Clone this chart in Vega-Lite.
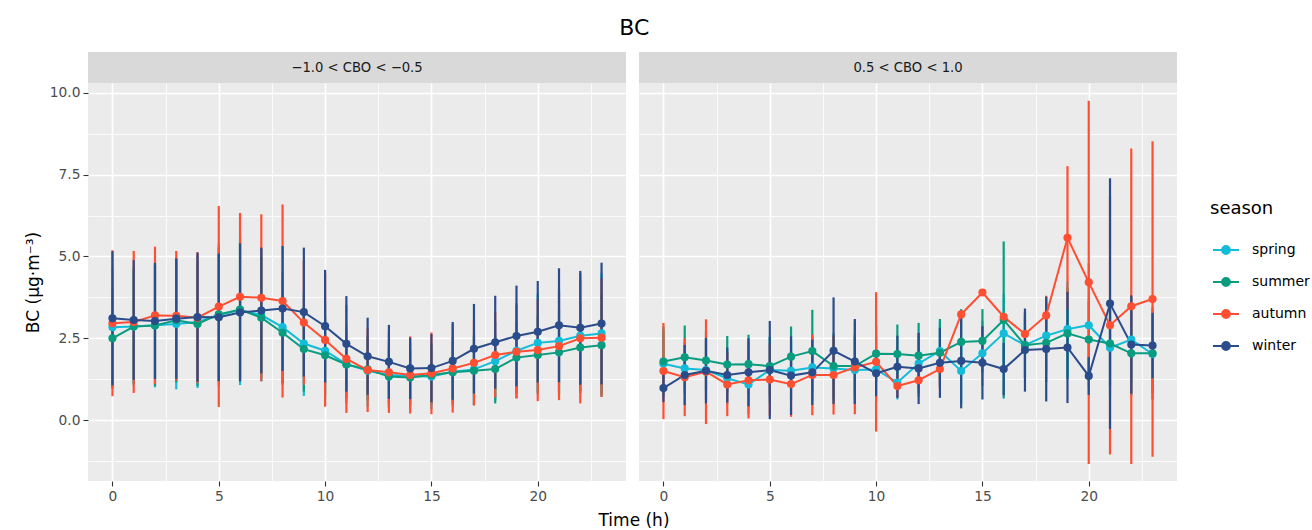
{
  "$schema": "https://vega.github.io/schema/vega-lite/v6.json",
  "padding": {"left": 24, "top": 17, "right": 0, "bottom": 0},
  "background": "white",
  "title": {"text": "BC", "fontSize": 22, "font": "DejaVu Sans", "fontWeight": "normal", "color": "black", "anchor": "start", "dx": 595, "offset": 12},
  "datasets": {
    "bc": [
      {"panel":"L","season":"spring","hour":0,"mean":2.84,"lo":1.00,"hi":4.68},
      {"panel":"L","season":"spring","hour":1,"mean":2.86,"lo":1.06,"hi":4.66},
      {"panel":"L","season":"spring","hour":2,"mean":2.90,"lo":1.00,"hi":4.80},
      {"panel":"L","season":"spring","hour":3,"mean":2.94,"lo":0.94,"hi":4.94},
      {"panel":"L","season":"spring","hour":4,"mean":3.00,"lo":0.98,"hi":5.02},
      {"panel":"L","season":"spring","hour":5,"mean":3.21,"lo":1.03,"hi":5.39},
      {"panel":"L","season":"spring","hour":6,"mean":3.36,"lo":1.07,"hi":5.65},
      {"panel":"L","season":"spring","hour":7,"mean":3.21,"lo":1.18,"hi":5.24},
      {"panel":"L","season":"spring","hour":8,"mean":2.84,"lo":1.14,"hi":4.54},
      {"panel":"L","season":"spring","hour":9,"mean":2.34,"lo":0.74,"hi":3.94},
      {"panel":"L","season":"spring","hour":10,"mean":2.12,"lo":0.62,"hi":3.62},
      {"panel":"L","season":"spring","hour":11,"mean":1.71,"lo":0.51,"hi":2.91},
      {"panel":"L","season":"spring","hour":12,"mean":1.51,"lo":0.41,"hi":2.61},
      {"panel":"L","season":"spring","hour":13,"mean":1.38,"lo":0.38,"hi":2.38},
      {"panel":"L","season":"spring","hour":14,"mean":1.35,"lo":0.35,"hi":2.35},
      {"panel":"L","season":"spring","hour":15,"mean":1.33,"lo":0.33,"hi":2.33},
      {"panel":"L","season":"spring","hour":16,"mean":1.48,"lo":0.43,"hi":2.53},
      {"panel":"L","season":"spring","hour":17,"mean":1.55,"lo":0.45,"hi":2.65},
      {"panel":"L","season":"spring","hour":18,"mean":1.80,"lo":0.60,"hi":3.00},
      {"panel":"L","season":"spring","hour":19,"mean":2.12,"lo":0.67,"hi":3.57},
      {"panel":"L","season":"spring","hour":20,"mean":2.36,"lo":0.86,"hi":3.86},
      {"panel":"L","season":"spring","hour":21,"mean":2.42,"lo":0.82,"hi":4.02},
      {"panel":"L","season":"spring","hour":22,"mean":2.58,"lo":0.88,"hi":4.28},
      {"panel":"L","season":"spring","hour":23,"mean":2.65,"lo":0.80,"hi":4.50},
      {"panel":"L","season":"summer","hour":0,"mean":2.50,"lo":0.95,"hi":4.05},
      {"panel":"L","season":"summer","hour":1,"mean":2.86,"lo":1.11,"hi":4.61},
      {"panel":"L","season":"summer","hour":2,"mean":2.89,"lo":1.04,"hi":4.74},
      {"panel":"L","season":"summer","hour":3,"mean":3.05,"lo":1.15,"hi":4.95},
      {"panel":"L","season":"summer","hour":4,"mean":2.94,"lo":1.04,"hi":4.84},
      {"panel":"L","season":"summer","hour":5,"mean":3.23,"lo":1.19,"hi":5.27},
      {"panel":"L","season":"summer","hour":6,"mean":3.38,"lo":1.28,"hi":5.48},
      {"panel":"L","season":"summer","hour":7,"mean":3.13,"lo":1.28,"hi":4.98},
      {"panel":"L","season":"summer","hour":8,"mean":2.67,"lo":1.08,"hi":4.26},
      {"panel":"L","season":"summer","hour":9,"mean":2.17,"lo":0.87,"hi":3.47},
      {"panel":"L","season":"summer","hour":10,"mean":1.98,"lo":0.78,"hi":3.18},
      {"panel":"L","season":"summer","hour":11,"mean":1.70,"lo":0.66,"hi":2.74},
      {"panel":"L","season":"summer","hour":12,"mean":1.55,"lo":0.60,"hi":2.50},
      {"panel":"L","season":"summer","hour":13,"mean":1.33,"lo":0.48,"hi":2.18},
      {"panel":"L","season":"summer","hour":14,"mean":1.30,"lo":0.45,"hi":2.15},
      {"panel":"L","season":"summer","hour":15,"mean":1.38,"lo":0.48,"hi":2.28},
      {"panel":"L","season":"summer","hour":16,"mean":1.46,"lo":0.51,"hi":2.41},
      {"panel":"L","season":"summer","hour":17,"mean":1.51,"lo":0.46,"hi":2.56},
      {"panel":"L","season":"summer","hour":18,"mean":1.56,"lo":0.51,"hi":2.61},
      {"panel":"L","season":"summer","hour":19,"mean":1.91,"lo":0.81,"hi":3.01},
      {"panel":"L","season":"summer","hour":20,"mean":1.99,"lo":0.79,"hi":3.19},
      {"panel":"L","season":"summer","hour":21,"mean":2.07,"lo":0.77,"hi":3.37},
      {"panel":"L","season":"summer","hour":22,"mean":2.22,"lo":0.82,"hi":3.62},
      {"panel":"L","season":"summer","hour":23,"mean":2.29,"lo":0.71,"hi":3.87},
      {"panel":"L","season":"autumn","hour":0,"mean":2.96,"lo":0.73,"hi":5.19},
      {"panel":"L","season":"autumn","hour":1,"mean":3.00,"lo":0.83,"hi":5.17},
      {"panel":"L","season":"autumn","hour":2,"mean":3.20,"lo":1.10,"hi":5.30},
      {"panel":"L","season":"autumn","hour":3,"mean":3.19,"lo":1.21,"hi":5.17},
      {"panel":"L","season":"autumn","hour":4,"mean":3.13,"lo":1.13,"hi":5.13},
      {"panel":"L","season":"autumn","hour":5,"mean":3.47,"lo":0.40,"hi":6.54},
      {"panel":"L","season":"autumn","hour":6,"mean":3.77,"lo":1.21,"hi":6.33},
      {"panel":"L","season":"autumn","hour":7,"mean":3.74,"lo":1.19,"hi":6.29},
      {"panel":"L","season":"autumn","hour":8,"mean":3.64,"lo":0.69,"hi":6.59},
      {"panel":"L","season":"autumn","hour":9,"mean":2.98,"lo":1.08,"hi":4.88},
      {"panel":"L","season":"autumn","hour":10,"mean":2.45,"lo":0.41,"hi":4.49},
      {"panel":"L","season":"autumn","hour":11,"mean":1.87,"lo":0.22,"hi":3.52},
      {"panel":"L","season":"autumn","hour":12,"mean":1.53,"lo":0.25,"hi":2.81},
      {"panel":"L","season":"autumn","hour":13,"mean":1.46,"lo":0.22,"hi":2.70},
      {"panel":"L","season":"autumn","hour":14,"mean":1.38,"lo":0.20,"hi":2.56},
      {"panel":"L","season":"autumn","hour":15,"mean":1.43,"lo":0.18,"hi":2.68},
      {"panel":"L","season":"autumn","hour":16,"mean":1.58,"lo":0.23,"hi":2.93},
      {"panel":"L","season":"autumn","hour":17,"mean":1.75,"lo":0.45,"hi":3.05},
      {"panel":"L","season":"autumn","hour":18,"mean":1.99,"lo":0.69,"hi":3.29},
      {"panel":"L","season":"autumn","hour":19,"mean":2.09,"lo":0.66,"hi":3.52},
      {"panel":"L","season":"autumn","hour":20,"mean":2.14,"lo":0.58,"hi":3.70},
      {"panel":"L","season":"autumn","hour":21,"mean":2.26,"lo":0.61,"hi":3.91},
      {"panel":"L","season":"autumn","hour":22,"mean":2.50,"lo":0.51,"hi":4.49},
      {"panel":"L","season":"autumn","hour":23,"mean":2.52,"lo":0.71,"hi":4.33},
      {"panel":"L","season":"winter","hour":0,"mean":3.11,"lo":1.06,"hi":5.16},
      {"panel":"L","season":"winter","hour":1,"mean":3.06,"lo":1.23,"hi":4.89},
      {"panel":"L","season":"winter","hour":2,"mean":3.03,"lo":1.26,"hi":4.80},
      {"panel":"L","season":"winter","hour":3,"mean":3.10,"lo":1.26,"hi":4.94},
      {"panel":"L","season":"winter","hour":4,"mean":3.15,"lo":1.18,"hi":5.12},
      {"panel":"L","season":"winter","hour":5,"mean":3.14,"lo":1.19,"hi":5.09},
      {"panel":"L","season":"winter","hour":6,"mean":3.29,"lo":1.18,"hi":5.40},
      {"panel":"L","season":"winter","hour":7,"mean":3.35,"lo":1.43,"hi":5.27},
      {"panel":"L","season":"winter","hour":8,"mean":3.41,"lo":1.50,"hi":5.32},
      {"panel":"L","season":"winter","hour":9,"mean":3.30,"lo":1.33,"hi":5.27},
      {"panel":"L","season":"winter","hour":10,"mean":2.87,"lo":1.15,"hi":4.59},
      {"panel":"L","season":"winter","hour":11,"mean":2.33,"lo":0.87,"hi":3.79},
      {"panel":"L","season":"winter","hour":12,"mean":1.95,"lo":0.77,"hi":3.13},
      {"panel":"L","season":"winter","hour":13,"mean":1.78,"lo":0.65,"hi":2.91},
      {"panel":"L","season":"winter","hour":14,"mean":1.58,"lo":0.64,"hi":2.52},
      {"panel":"L","season":"winter","hour":15,"mean":1.59,"lo":0.55,"hi":2.63},
      {"panel":"L","season":"winter","hour":16,"mean":1.81,"lo":0.62,"hi":3.00},
      {"panel":"L","season":"winter","hour":17,"mean":2.18,"lo":0.81,"hi":3.55},
      {"panel":"L","season":"winter","hour":18,"mean":2.38,"lo":0.96,"hi":3.80},
      {"panel":"L","season":"winter","hour":19,"mean":2.57,"lo":1.03,"hi":4.11},
      {"panel":"L","season":"winter","hour":20,"mean":2.70,"lo":1.15,"hi":4.25},
      {"panel":"L","season":"winter","hour":21,"mean":2.90,"lo":1.16,"hi":4.64},
      {"panel":"L","season":"winter","hour":22,"mean":2.82,"lo":1.08,"hi":4.56},
      {"panel":"L","season":"winter","hour":23,"mean":2.95,"lo":1.09,"hi":4.81},
      {"panel":"R","season":"spring","hour":0,"mean":1.72,"lo":0.72,"hi":2.72},
      {"panel":"R","season":"spring","hour":1,"mean":1.58,"lo":0.78,"hi":2.38},
      {"panel":"R","season":"spring","hour":2,"mean":1.53,"lo":0.63,"hi":2.43},
      {"panel":"R","season":"spring","hour":3,"mean":1.28,"lo":0.48,"hi":2.08},
      {"panel":"R","season":"spring","hour":4,"mean":1.09,"lo":0.19,"hi":1.99},
      {"panel":"R","season":"spring","hour":5,"mean":1.53,"lo":0.53,"hi":2.53},
      {"panel":"R","season":"spring","hour":6,"mean":1.51,"lo":0.61,"hi":2.41},
      {"panel":"R","season":"spring","hour":7,"mean":1.61,"lo":0.61,"hi":2.61},
      {"panel":"R","season":"spring","hour":8,"mean":1.58,"lo":0.58,"hi":2.58},
      {"panel":"R","season":"spring","hour":9,"mean":1.53,"lo":0.53,"hi":2.53},
      {"panel":"R","season":"spring","hour":10,"mean":1.55,"lo":0.55,"hi":2.55},
      {"panel":"R","season":"spring","hour":11,"mean":1.15,"lo":0.63,"hi":1.67},
      {"panel":"R","season":"spring","hour":12,"mean":1.73,"lo":0.83,"hi":2.63},
      {"panel":"R","season":"spring","hour":13,"mean":2.11,"lo":1.21,"hi":3.01},
      {"panel":"R","season":"spring","hour":14,"mean":1.50,"lo":0.50,"hi":2.50},
      {"panel":"R","season":"spring","hour":15,"mean":2.04,"lo":1.04,"hi":3.04},
      {"panel":"R","season":"spring","hour":16,"mean":2.65,"lo":1.45,"hi":3.85},
      {"panel":"R","season":"spring","hour":17,"mean":2.29,"lo":1.29,"hi":3.29},
      {"panel":"R","season":"spring","hour":18,"mean":2.58,"lo":1.48,"hi":3.68},
      {"panel":"R","season":"spring","hour":19,"mean":2.78,"lo":1.33,"hi":4.23},
      {"panel":"R","season":"spring","hour":20,"mean":2.90,"lo":1.01,"hi":4.79},
      {"panel":"R","season":"spring","hour":21,"mean":2.21,"lo":0.71,"hi":3.71},
      {"panel":"R","season":"spring","hour":22,"mean":2.46,"lo":1.16,"hi":3.76},
      {"panel":"R","season":"spring","hour":23,"mean":2.02,"lo":0.82,"hi":3.22},
      {"panel":"R","season":"summer","hour":0,"mean":1.79,"lo":0.72,"hi":2.86},
      {"panel":"R","season":"summer","hour":1,"mean":1.92,"lo":0.95,"hi":2.89},
      {"panel":"R","season":"summer","hour":2,"mean":1.82,"lo":0.92,"hi":2.72},
      {"panel":"R","season":"summer","hour":3,"mean":1.70,"lo":0.83,"hi":2.57},
      {"panel":"R","season":"summer","hour":4,"mean":1.71,"lo":0.81,"hi":2.61},
      {"panel":"R","season":"summer","hour":5,"mean":1.65,"lo":0.75,"hi":2.55},
      {"panel":"R","season":"summer","hour":6,"mean":1.94,"lo":1.02,"hi":2.86},
      {"panel":"R","season":"summer","hour":7,"mean":2.11,"lo":0.85,"hi":3.37},
      {"panel":"R","season":"summer","hour":8,"mean":1.65,"lo":0.65,"hi":2.65},
      {"panel":"R","season":"summer","hour":9,"mean":1.65,"lo":0.65,"hi":2.65},
      {"panel":"R","season":"summer","hour":10,"mean":2.03,"lo":1.18,"hi":2.88},
      {"panel":"R","season":"summer","hour":11,"mean":2.02,"lo":1.12,"hi":2.92},
      {"panel":"R","season":"summer","hour":12,"mean":1.97,"lo":0.97,"hi":2.97},
      {"panel":"R","season":"summer","hour":13,"mean":2.06,"lo":1.03,"hi":3.09},
      {"panel":"R","season":"summer","hour":14,"mean":2.39,"lo":1.39,"hi":3.39},
      {"panel":"R","season":"summer","hour":15,"mean":2.42,"lo":1.45,"hi":3.39},
      {"panel":"R","season":"summer","hour":16,"mean":3.06,"lo":0.66,"hi":5.46},
      {"panel":"R","season":"summer","hour":17,"mean":2.29,"lo":1.29,"hi":3.29},
      {"panel":"R","season":"summer","hour":18,"mean":2.36,"lo":1.16,"hi":3.56},
      {"panel":"R","season":"summer","hour":19,"mean":2.65,"lo":1.25,"hi":4.05},
      {"panel":"R","season":"summer","hour":20,"mean":2.46,"lo":1.26,"hi":3.66},
      {"panel":"R","season":"summer","hour":21,"mean":2.34,"lo":1.04,"hi":3.64},
      {"panel":"R","season":"summer","hour":22,"mean":2.04,"lo":0.74,"hi":3.34},
      {"panel":"R","season":"summer","hour":23,"mean":2.04,"lo":0.63,"hi":3.45},
      {"panel":"R","season":"autumn","hour":0,"mean":1.50,"lo":0.03,"hi":2.97},
      {"panel":"R","season":"autumn","hour":1,"mean":1.31,"lo":0.12,"hi":2.50},
      {"panel":"R","season":"autumn","hour":2,"mean":1.48,"lo":-0.12,"hi":3.08},
      {"panel":"R","season":"autumn","hour":3,"mean":1.09,"lo":0.12,"hi":2.06},
      {"panel":"R","season":"autumn","hour":4,"mean":1.22,"lo":0.05,"hi":2.39},
      {"panel":"R","season":"autumn","hour":5,"mean":1.24,"lo":0.14,"hi":2.34},
      {"panel":"R","season":"autumn","hour":6,"mean":1.10,"lo":0.10,"hi":2.10},
      {"panel":"R","season":"autumn","hour":7,"mean":1.38,"lo":0.15,"hi":2.61},
      {"panel":"R","season":"autumn","hour":8,"mean":1.38,"lo":0.17,"hi":2.59},
      {"panel":"R","season":"autumn","hour":9,"mean":1.61,"lo":0.18,"hi":3.04},
      {"panel":"R","season":"autumn","hour":10,"mean":1.78,"lo":-0.35,"hi":3.91},
      {"panel":"R","season":"autumn","hour":11,"mean":1.04,"lo":0.69,"hi":1.39},
      {"panel":"R","season":"autumn","hour":12,"mean":1.22,"lo":0.72,"hi":1.72},
      {"panel":"R","season":"autumn","hour":13,"mean":1.56,"lo":0.96,"hi":2.16},
      {"panel":"R","season":"autumn","hour":14,"mean":3.23,"lo":3.18,"hi":3.28},
      {"panel":"R","season":"autumn","hour":15,"mean":3.90,"lo":3.85,"hi":3.95},
      {"panel":"R","season":"autumn","hour":16,"mean":3.16,"lo":3.06,"hi":3.26},
      {"panel":"R","season":"autumn","hour":17,"mean":2.63,"lo":2.13,"hi":3.13},
      {"panel":"R","season":"autumn","hour":18,"mean":3.20,"lo":2.60,"hi":3.80},
      {"panel":"R","season":"autumn","hour":19,"mean":5.57,"lo":3.38,"hi":7.76},
      {"panel":"R","season":"autumn","hour":20,"mean":4.21,"lo":-1.34,"hi":9.76},
      {"panel":"R","season":"autumn","hour":21,"mean":2.90,"lo":-1.05,"hi":6.85},
      {"panel":"R","season":"autumn","hour":22,"mean":3.48,"lo":-1.34,"hi":8.30},
      {"panel":"R","season":"autumn","hour":23,"mean":3.70,"lo":-1.12,"hi":8.52},
      {"panel":"R","season":"winter","hour":0,"mean":0.98,"lo":0.55,"hi":1.41},
      {"panel":"R","season":"winter","hour":1,"mean":1.38,"lo":0.46,"hi":2.30},
      {"panel":"R","season":"winter","hour":2,"mean":1.51,"lo":0.51,"hi":2.51},
      {"panel":"R","season":"winter","hour":3,"mean":1.38,"lo":0.54,"hi":2.22},
      {"panel":"R","season":"winter","hour":4,"mean":1.46,"lo":0.42,"hi":2.50},
      {"panel":"R","season":"winter","hour":5,"mean":1.53,"lo":0.03,"hi":3.03},
      {"panel":"R","season":"winter","hour":6,"mean":1.36,"lo":0.16,"hi":2.56},
      {"panel":"R","season":"winter","hour":7,"mean":1.46,"lo":0.46,"hi":2.46},
      {"panel":"R","season":"winter","hour":8,"mean":2.12,"lo":0.49,"hi":3.75},
      {"panel":"R","season":"winter","hour":9,"mean":1.79,"lo":0.49,"hi":3.09},
      {"panel":"R","season":"winter","hour":10,"mean":1.43,"lo":0.73,"hi":2.13},
      {"panel":"R","season":"winter","hour":11,"mean":1.63,"lo":0.68,"hi":2.58},
      {"panel":"R","season":"winter","hour":12,"mean":1.58,"lo":0.49,"hi":2.67},
      {"panel":"R","season":"winter","hour":13,"mean":1.75,"lo":0.68,"hi":2.82},
      {"panel":"R","season":"winter","hour":14,"mean":1.81,"lo":0.36,"hi":3.26},
      {"panel":"R","season":"winter","hour":15,"mean":1.75,"lo":0.63,"hi":2.87},
      {"panel":"R","season":"winter","hour":16,"mean":1.56,"lo":0.76,"hi":2.36},
      {"panel":"R","season":"winter","hour":17,"mean":2.14,"lo":0.87,"hi":3.41},
      {"panel":"R","season":"winter","hour":18,"mean":2.17,"lo":0.57,"hi":3.77},
      {"panel":"R","season":"winter","hour":19,"mean":2.22,"lo":0.52,"hi":3.92},
      {"panel":"R","season":"winter","hour":20,"mean":1.35,"lo":0.77,"hi":1.93},
      {"panel":"R","season":"winter","hour":21,"mean":3.56,"lo":-0.27,"hi":7.39},
      {"panel":"R","season":"winter","hour":22,"mean":2.31,"lo":0.81,"hi":3.81},
      {"panel":"R","season":"winter","hour":23,"mean":2.28,"lo":1.28,"hi":3.28}
    ]
  },
  "spacing": 0,
  "vconcat": [
    {
      "spacing": 13,
      "bounds": "flush",
      "hconcat": [
        {
          "width": 538, "height": 31,
          "view": {"fill": "#D9D9D9", "stroke": null},
          "data": {"values": [{"label": "−1.0 < CBO < −0.5"}]},
          "mark": {"type": "text", "fontSize": 13.2, "font": "DejaVu Sans", "color": "#1A1A1A"},
          "encoding": {"text": {"field": "label", "type": "nominal"}}
        },
        {
          "width": 538, "height": 31,
          "view": {"fill": "#D9D9D9", "stroke": null},
          "data": {"values": [{"label": "0.5 < CBO < 1.0"}]},
          "mark": {"type": "text", "fontSize": 13.2, "font": "DejaVu Sans", "color": "#1A1A1A"},
          "encoding": {"text": {"field": "label", "type": "nominal"}}
        }
      ]
    },
    {
      "spacing": 13,
      "bounds": "flush",
      "hconcat": [
        {
          "width": 538, "height": 398,
          "data": {"name": "bc"},
          "transform": [{"filter": "datum.panel === 'L'"}],
          "resolve": {"axis": {"x": "independent", "y": "independent"}},
          "layer": [
            {
              "mark": {"type": "point", "opacity": 0},
              "encoding": {
                "x": {"field": "hour", "type": "quantitative", "scale": {"domain": [-1.15, 24.15], "nice": false, "zero": false},
                      "axis": {"orient": "top", "values": [2.5, 7.5, 12.5, 17.5, 22.5], "labels": false, "ticks": false, "domain": false, "grid": true, "gridWidth": 0.8, "title": null}},
                "y": {"field": "mean", "type": "quantitative", "scale": {"domain": [-1.86, 10.3], "nice": false, "zero": false},
                      "axis": {"orient": "right", "values": [-1.25, 1.25, 3.75, 6.25, 8.75], "labels": false, "ticks": false, "domain": false, "grid": true, "gridWidth": 0.8, "title": null}}
              }
            },
            {
              "mark": {"type": "rule", "strokeWidth": 2.2},
              "encoding": {
                "x": {"field": "hour", "type": "quantitative", "axis": {"values": [0, 5, 10, 15, 20], "format": "d", "title": "Time (h)", "titleX": 545.5, "titlePadding": 10, "grid": true}},
                "y": {"field": "lo", "type": "quantitative", "axis": {"values": [0, 2.5, 5, 7.5, 10], "format": ".1f", "title": "BC (µg·m⁻³)", "grid": true}},
                "y2": {"field": "hi"},
                "color": {"field": "season", "type": "nominal", "scale": {"domain": ["spring", "summer", "autumn", "winter"], "range": ["#13BCD8", "#0A9C7F", "#FF4F33", "#2B4C8A"]}}
              }
            },
            {
              "mark": {"type": "line", "strokeWidth": 2},
              "encoding": {
                "x": {"field": "hour", "type": "quantitative", "axis": null},
                "y": {"field": "mean", "type": "quantitative", "axis": null},
                "color": {"field": "season", "type": "nominal"}
              }
            },
            {
              "mark": {"type": "point", "filled": true, "size": 66, "opacity": 1},
              "encoding": {
                "x": {"field": "hour", "type": "quantitative", "axis": null},
                "y": {"field": "mean", "type": "quantitative", "axis": null},
                "color": {"field": "season", "type": "nominal",
                  "legend": {"title": "season", "orient": "none", "legendX": 1122, "legendY": 148,
                    "encode": {"symbols": {"update": {"fill": {"scale": "color", "field": "value"}, "stroke": {"scale": "color", "field": "value"}, "strokeWidth": {"value": 2}, "opacity": {"value": 1}}}}}}
              }
            }
          ]
        },
        {
          "width": 538, "height": 398,
          "data": {"name": "bc"},
          "transform": [{"filter": "datum.panel === 'R'"}],
          "resolve": {"axis": {"x": "independent", "y": "independent"}},
          "layer": [
            {
              "mark": {"type": "point", "opacity": 0},
              "encoding": {
                "x": {"field": "hour", "type": "quantitative", "scale": {"domain": [-1.15, 24.15], "nice": false, "zero": false},
                      "axis": {"orient": "top", "values": [2.5, 7.5, 12.5, 17.5, 22.5], "labels": false, "ticks": false, "domain": false, "grid": true, "gridWidth": 0.8, "title": null}},
                "y": {"field": "mean", "type": "quantitative", "scale": {"domain": [-1.86, 10.3], "nice": false, "zero": false},
                      "axis": {"orient": "right", "values": [-1.25, 1.25, 3.75, 6.25, 8.75], "labels": false, "ticks": false, "domain": false, "grid": true, "gridWidth": 0.8, "title": null}}
              }
            },
            {
              "mark": {"type": "rule", "strokeWidth": 2.2},
              "encoding": {
                "x": {"field": "hour", "type": "quantitative", "axis": {"values": [0, 5, 10, 15, 20], "format": "d", "title": null, "grid": true}},
                "y": {"field": "lo", "type": "quantitative", "axis": {"values": [0, 2.5, 5, 7.5, 10], "labels": false, "ticks": false, "title": null, "grid": true}},
                "y2": {"field": "hi"},
                "color": {"field": "season", "type": "nominal", "scale": {"domain": ["spring", "summer", "autumn", "winter"], "range": ["#13BCD8", "#0A9C7F", "#FF4F33", "#2B4C8A"]}}
              }
            },
            {
              "mark": {"type": "line", "strokeWidth": 2},
              "encoding": {
                "x": {"field": "hour", "type": "quantitative", "axis": null},
                "y": {"field": "mean", "type": "quantitative", "axis": null},
                "color": {"field": "season", "type": "nominal"}
              }
            },
            {
              "mark": {"type": "point", "filled": true, "size": 66, "opacity": 1},
              "encoding": {
                "x": {"field": "hour", "type": "quantitative", "axis": null},
                "y": {"field": "mean", "type": "quantitative", "axis": null},
                "color": {"field": "season", "type": "nominal"}
              }
            }
          ]
        }
      ]
    }
  ],
  "resolve": {"scale": {"color": "shared"}, "legend": {"color": "shared"}},
  "config": {
    "font": "DejaVu Sans",
    "view": {"fill": "#EBEBEB", "stroke": null},
    "axis": {
      "domain": false, "tickColor": "#333333", "tickSize": 5, "tickWidth": 1.1,
      "labelColor": "#4D4D4D", "labelFontSize": 13.8, "labelFont": "DejaVu Sans", "labelPadding": 3,
      "titleFont": "DejaVu Sans", "titleFontSize": 17, "titleFontWeight": "normal", "titleColor": "black",
      "gridColor": "white", "gridWidth": 1.6, "titlePadding": 7
    },
    "legend": {
      "padding": 0, "titleFontSize": 18, "titleFontWeight": "normal", "titleColor": "black", "titleFont": "DejaVu Sans", "titlePadding": 18,
      "labelFontSize": 14, "labelColor": "black", "labelFont": "DejaVu Sans", "labelOffset": 12,
      "symbolType": "M-1,0H1M-0.3,0A0.3,0.3,0,1,1,0.3,0A0.3,0.3,0,1,1,-0.3,0Z",
      "symbolSize": 676, "symbolOffset": 2, "rowPadding": 10, "symbolStrokeWidth": 2
    }
  }
}
